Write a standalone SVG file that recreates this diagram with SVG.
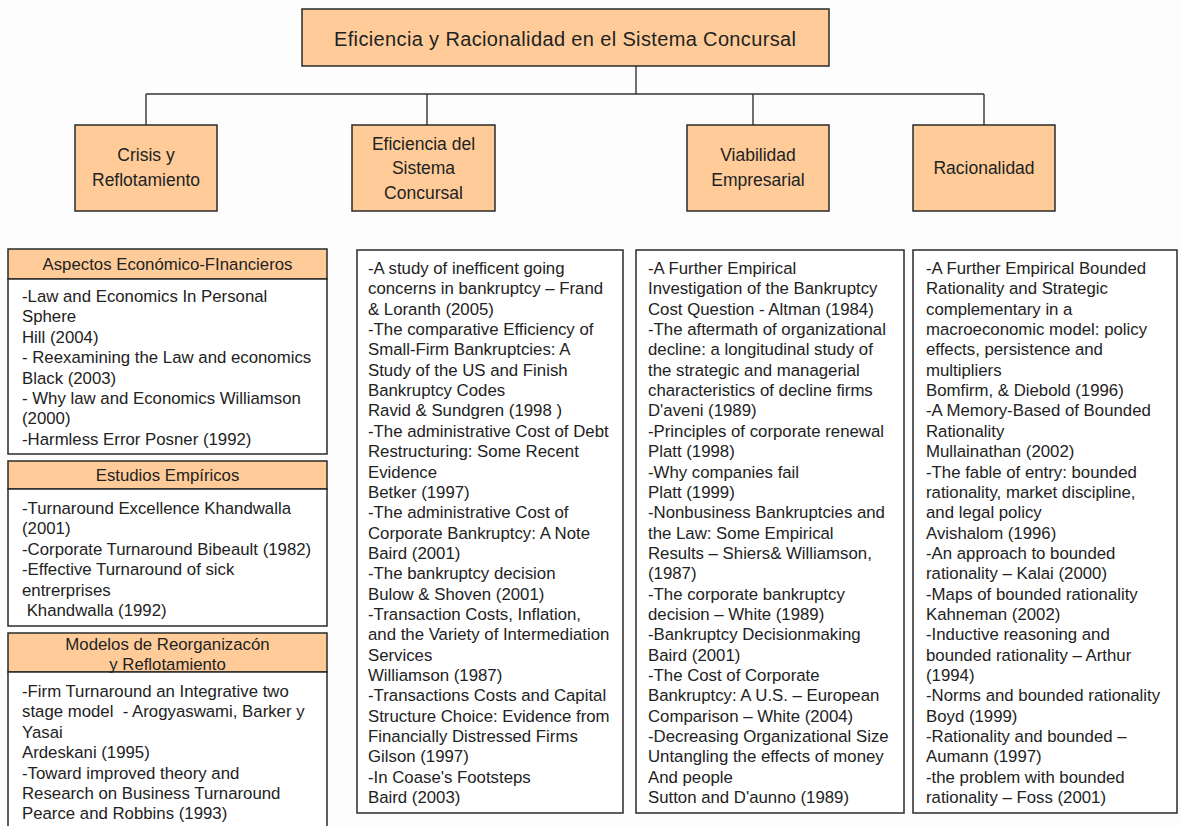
<svg xmlns="http://www.w3.org/2000/svg" width="1181" height="826" viewBox="0 0 1181 826">
  <style>
    .orange { fill: #FFCC99; stroke: #2a2a2a; stroke-width: 1.5; }
    .plain { fill: #ffffff; stroke: #2a2a2a; stroke-width: 1.5; }
    .title { font-family: "Liberation Sans", Arial, sans-serif; font-size: 20px; fill: #222; text-anchor: middle; }
    .cat { font-family: "Liberation Sans", Arial, sans-serif; font-size: 17.5px; fill: #222; text-anchor: middle; }
    .head { font-family: "Liberation Sans", Arial, sans-serif; font-size: 16.8px; fill: #222; text-anchor: middle; }
    .body { font-family: "Liberation Sans", Arial, sans-serif; font-size: 16.8px; fill: #222; }
    .conn { fill: none; stroke: #333; stroke-width: 1.4; }
  </style>
  <rect width="1181" height="826" fill="#fdfdfd"/>

  <!-- connectors -->
  <g id="connectors">
    <path class="conn" d="M636 66 V94 M146 94 H984 M146 94 V125 M427 94 V125 M753 94 V125 M984 94 V125"/>
  </g>

  <!-- root -->
  <g id="root">
    <rect class="orange" x="302" y="9" width="527" height="57"/>
    <text class="title" x="565" y="46" textLength="462" lengthAdjust="spacing">Eficiencia y Racionalidad en el Sistema Concursal</text>
  </g>

  <!-- categories -->
  <g id="crisis">
    <rect class="orange" x="75" y="125" width="142" height="86"/>
    <text class="cat" x="146" y="161">Crisis y</text>
    <text class="cat" x="146" y="186">Reflotamiento</text>
  </g>
  <g id="eficiencia">
    <rect class="orange" x="352" y="125" width="143" height="86"/>
    <text class="cat" x="423.5" y="150">Eficiencia del</text>
    <text class="cat" x="423.5" y="174">Sistema</text>
    <text class="cat" x="423.5" y="199">Concursal</text>
  </g>
  <g id="viabilidad">
    <rect class="orange" x="687" y="125" width="142" height="86"/>
    <text class="cat" x="758" y="161">Viabilidad</text>
    <text class="cat" x="758" y="186">Empresarial</text>
  </g>
  <g id="racionalidad">
    <rect class="orange" x="913" y="125" width="142" height="86"/>
    <text class="cat" x="984" y="174">Racionalidad</text>
  </g>

  <!-- left column: three titled lists -->
  <g id="aspectos">
    <rect class="orange" x="8" y="249" width="319" height="30"/>
    <rect class="plain" x="8" y="279" width="319" height="175"/>
    <text class="head" x="167.5" y="270">Aspectos Económico-FInancieros</text>
    <text class="body" x="22">
      <tspan x="22" y="302">-Law and Economics In Personal</tspan>
      <tspan x="22" y="322.4">Sphere</tspan>
      <tspan x="22" y="342.8">Hill (2004)</tspan>
      <tspan x="22" y="363.2">- Reexamining the Law and economics</tspan>
      <tspan x="22" y="383.6">Black (2003)</tspan>
      <tspan x="22" y="404">- Why law and Economics Williamson</tspan>
      <tspan x="22" y="424.4">(2000)</tspan>
      <tspan x="22" y="444.8">-Harmless Error Posner (1992)</tspan>
    </text>
  </g>
  <g id="estudios">
    <rect class="orange" x="8" y="461" width="319" height="28"/>
    <rect class="plain" x="8" y="489" width="319" height="137"/>
    <text class="head" x="167.5" y="481">Estudios Empíricos</text>
    <text class="body" x="22">
      <tspan x="22" y="514">-Turnaround Excellence Khandwalla</tspan>
      <tspan x="22" y="534.4">(2001)</tspan>
      <tspan x="22" y="554.8">-Corporate Turnaround Bibeault (1982)</tspan>
      <tspan x="22" y="575.2">-Effective Turnaround of sick</tspan>
      <tspan x="22" y="595.6">entrerprises</tspan>
      <tspan x="22" y="616">&#160;Khandwalla (1992)</tspan>
    </text>
  </g>
  <g id="modelos">
    <rect class="orange" x="8" y="633" width="319" height="39"/>
    <rect class="plain" x="8" y="672" width="319" height="160"/>
    <text class="head" x="167.5" y="650">Modelos de Reorganizacón</text>
    <text class="head" x="167.5" y="670">y Reflotamiento</text>
    <text class="body" x="22">
      <tspan x="22" y="697">-Firm Turnaround an Integrative two</tspan>
      <tspan x="22" y="717.4">stage model &#160;- Arogyaswami, Barker y</tspan>
      <tspan x="22" y="737.8">Yasai</tspan>
      <tspan x="22" y="758.2">Ardeskani (1995)</tspan>
      <tspan x="22" y="778.6">-Toward improved theory and</tspan>
      <tspan x="22" y="799">Research on Business Turnaround</tspan>
      <tspan x="22" y="819.4">Pearce and Robbins (1993)</tspan>
    </text>
  </g>

  <!-- reference lists under the other categories -->
  <g id="lista-eficiencia">
    <rect class="plain" x="357" y="250" width="266" height="563"/>
    <text class="body">
      <tspan x="368" y="274">-A study of inefficent going</tspan>
      <tspan x="368" y="294.35">concerns in bankruptcy – Frand</tspan>
      <tspan x="368" y="314.7">&amp; Loranth (2005)</tspan>
      <tspan x="368" y="335.05">-The comparative Efficiency of</tspan>
      <tspan x="368" y="355.4">Small-Firm Bankruptcies: A</tspan>
      <tspan x="368" y="375.75">Study of the US and Finish</tspan>
      <tspan x="368" y="396.1">Bankruptcy Codes</tspan>
      <tspan x="368" y="416.45">Ravid &amp; Sundgren (1998 )</tspan>
      <tspan x="368" y="436.8">-The administrative Cost of Debt</tspan>
      <tspan x="368" y="457.15">Restructuring: Some Recent</tspan>
      <tspan x="368" y="477.5">Evidence</tspan>
      <tspan x="368" y="497.85">Betker (1997)</tspan>
      <tspan x="368" y="518.2">-The administrative Cost of</tspan>
      <tspan x="368" y="538.55">Corporate Bankruptcy: A Note</tspan>
      <tspan x="368" y="558.9">Baird (2001)</tspan>
      <tspan x="368" y="579.25">-The bankruptcy decision</tspan>
      <tspan x="368" y="599.6">Bulow &amp; Shoven (2001)</tspan>
      <tspan x="368" y="619.95">-Transaction Costs, Inflation,</tspan>
      <tspan x="368" y="640.3">and the Variety of Intermediation</tspan>
      <tspan x="368" y="660.65">Services</tspan>
      <tspan x="368" y="681">Williamson (1987)</tspan>
      <tspan x="368" y="701.35">-Transactions Costs and Capital</tspan>
      <tspan x="368" y="721.7">Structure Choice: Evidence from</tspan>
      <tspan x="368" y="742.05">Financially Distressed Firms</tspan>
      <tspan x="368" y="762.4">Gilson (1997)</tspan>
      <tspan x="368" y="782.75">-In Coase's Footsteps</tspan>
      <tspan x="368" y="803.1">Baird (2003)</tspan>
    </text>
  </g>
  <g id="lista-viabilidad">
    <rect class="plain" x="636" y="250" width="268" height="563"/>
    <text class="body">
      <tspan x="648" y="274">-A Further Empirical</tspan>
      <tspan x="648" y="294.35">Investigation of the Bankruptcy</tspan>
      <tspan x="648" y="314.7">Cost Question - Altman (1984)</tspan>
      <tspan x="648" y="335.05">-The aftermath of organizational</tspan>
      <tspan x="648" y="355.4">decline: a longitudinal study of</tspan>
      <tspan x="648" y="375.75">the strategic and managerial</tspan>
      <tspan x="648" y="396.1">characteristics of decline firms</tspan>
      <tspan x="648" y="416.45">D'aveni (1989)</tspan>
      <tspan x="648" y="436.8">-Principles of corporate renewal</tspan>
      <tspan x="648" y="457.15">Platt (1998)</tspan>
      <tspan x="648" y="477.5">-Why companies fail</tspan>
      <tspan x="648" y="497.85">Platt (1999)</tspan>
      <tspan x="648" y="518.2">-Nonbusiness Bankruptcies and</tspan>
      <tspan x="648" y="538.55">the Law: Some Empirical</tspan>
      <tspan x="648" y="558.9">Results – Shiers&amp; Williamson,</tspan>
      <tspan x="648" y="579.25">(1987)</tspan>
      <tspan x="648" y="599.6">-The corporate bankruptcy</tspan>
      <tspan x="648" y="619.95">decision – White (1989)</tspan>
      <tspan x="648" y="640.3">-Bankruptcy Decisionmaking</tspan>
      <tspan x="648" y="660.65">Baird (2001)</tspan>
      <tspan x="648" y="681">-The Cost of Corporate</tspan>
      <tspan x="648" y="701.35">Bankruptcy: A U.S. – European</tspan>
      <tspan x="648" y="721.7">Comparison – White (2004)</tspan>
      <tspan x="648" y="742.05">-Decreasing Organizational Size</tspan>
      <tspan x="648" y="762.4">Untangling the effects of money</tspan>
      <tspan x="648" y="782.75">And people</tspan>
      <tspan x="648" y="803.1">Sutton and D'aunno (1989)</tspan>
    </text>
  </g>
  <g id="lista-racionalidad">
    <rect class="plain" x="913" y="250" width="264" height="563"/>
    <text class="body">
      <tspan x="926" y="274">-A Further Empirical Bounded</tspan>
      <tspan x="926" y="294.35">Rationality and Strategic</tspan>
      <tspan x="926" y="314.7">complementary in a</tspan>
      <tspan x="926" y="335.05">macroeconomic model: policy</tspan>
      <tspan x="926" y="355.4">effects, persistence and</tspan>
      <tspan x="926" y="375.75">multipliers</tspan>
      <tspan x="926" y="396.1">Bomfirm, &amp; Diebold (1996)</tspan>
      <tspan x="926" y="416.45">-A Memory-Based of Bounded</tspan>
      <tspan x="926" y="436.8">Rationality</tspan>
      <tspan x="926" y="457.15">Mullainathan (2002)</tspan>
      <tspan x="926" y="477.5">-The fable of entry: bounded</tspan>
      <tspan x="926" y="497.85">rationality, market discipline,</tspan>
      <tspan x="926" y="518.2">and legal policy</tspan>
      <tspan x="926" y="538.55">Avishalom (1996)</tspan>
      <tspan x="926" y="558.9">-An approach to bounded</tspan>
      <tspan x="926" y="579.25">rationality – Kalai (2000)</tspan>
      <tspan x="926" y="599.6">-Maps of bounded rationality</tspan>
      <tspan x="926" y="619.95">Kahneman (2002)</tspan>
      <tspan x="926" y="640.3">-Inductive reasoning and</tspan>
      <tspan x="926" y="660.65">bounded rationality – Arthur</tspan>
      <tspan x="926" y="681">(1994)</tspan>
      <tspan x="926" y="701.35">-Norms and bounded rationality</tspan>
      <tspan x="926" y="721.7">Boyd (1999)</tspan>
      <tspan x="926" y="742.05">-Rationality and bounded –</tspan>
      <tspan x="926" y="762.4">Aumann (1997)</tspan>
      <tspan x="926" y="782.75">-the problem with bounded</tspan>
      <tspan x="926" y="803.1">rationality – Foss (2001)</tspan>
    </text>
  </g>
</svg>
